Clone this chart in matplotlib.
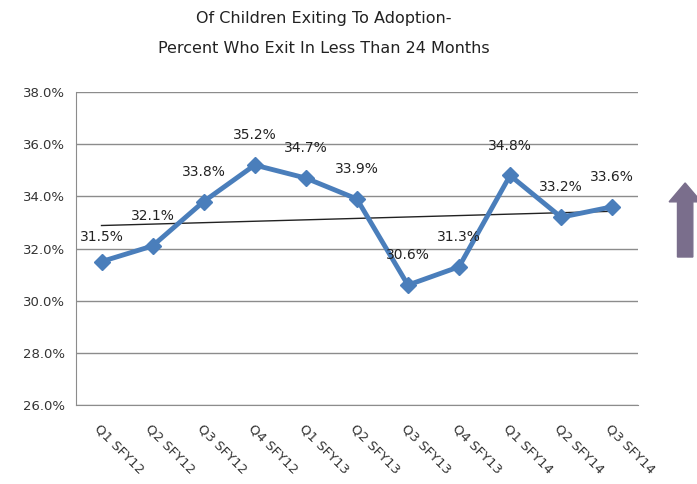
import numpy as np
import matplotlib
matplotlib.use("Agg")
import matplotlib.pyplot as plt
from matplotlib.patches import FancyArrow

quarters = ['Q1 SFY12', 'Q2 SFY12', 'Q3 SFY12', 'Q4 SFY12', 'Q1 SFY13', 'Q2 SFY13',
            'Q3 SFY13', 'Q4 SFY13', 'Q1 SFY14', 'Q2 SFY14', 'Q3 SFY14']
pct = [31.5, 32.1, 33.8, 35.2, 34.7, 33.9, 30.6, 31.3, 34.8, 33.2, 33.6]
yticks = [26, 28, 30, 32, 34, 36, 38]

plt.rcParams['font.family'] = ['DejaVu Sans']

fig = plt.figure(figsize=(6.97, 4.84), dpi=100)
ax = fig.add_axes([0.109, 0.163, 0.806, 0.647])

x = np.arange(len(pct))
ax.plot(x, pct, color='#4a7ebb', lw=3.5, marker='D', ms=8.5, zorder=3)

# linear trend
k, b = np.polyfit(x, pct, 1)
ax.plot(x, k * x + b, color='#222222', lw=1, zorder=2)

for i, v in enumerate(pct):
    dy = 18 if i == 0 else 21.5
    ax.annotate('%.1f%%' % v, (i, v), xytext=(0, dy), textcoords='offset points',
                ha='center', va='center', fontsize=10, color='#222222', zorder=4)

ax.set_xlim(-0.5, len(pct) - 0.5)
ax.set_ylim(26, 38)
ax.set_yticks(yticks)
ax.set_yticklabels(['%.1f%%' % t for t in yticks], fontsize=9.5, color='#333333')
ax.set_xticks(x)
ax.set_xticklabels(quarters, rotation=-45, ha='left', va='top', rotation_mode='anchor',
                   fontsize=9.5, color='#333333')
ax.tick_params(length=0, pad=8)
ax.tick_params(axis='x', pad=12)
ax.grid(axis='y', color='#8c8c8c', lw=1)
ax.set_axisbelow(True)
for s in ['top', 'right']:
    ax.spines[s].set_visible(False)
for s in ['left', 'bottom']:
    ax.spines[s].set_color('#8c8c8c')

fig.text(0.464, 0.962, 'Of Children Exiting To Adoption-', ha='center', va='center', fontsize=11.5, color='#222222')
fig.text(0.464, 0.9, 'Percent Who Exit In Less Than 24 Months', ha='center', va='center', fontsize=11.5, color='#222222')

fig.patches.append(FancyArrow(0.983, 0.469, 0, 0.114, width=0.022, head_width=0.046, head_length=0.039,
                              length_includes_head=False, transform=fig.transFigure,
                              color='#7a6e8c', figure=fig))

fig.savefig('out.png', dpi=100)
